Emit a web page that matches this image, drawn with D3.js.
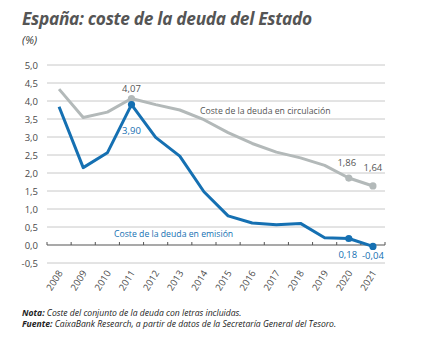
<!DOCTYPE html>
<html>
<head>
<meta charset="utf-8">
<script src="https://cdn.jsdelivr.net/npm/d3@7"></script>
<style>
  body { margin: 0; background: #fff; }
  text { font-family: "Open Sans", "Noto Sans", sans-serif; }
</style>
</head>
<body>
<div id="chart"></div>
<script>
// data
const years = ["2008","2009","2010","2011","2012","2013","2014","2015","2016","2017","2018","2019","2020","2021"];
const circulacion = [4.33, 3.54, 3.69, 4.07, 3.90, 3.75, 3.48, 3.12, 2.82, 2.58, 2.42, 2.21, 1.86, 1.64];
const emision = [3.84, 2.15, 2.56, 3.90, 2.99, 2.47, 1.48, 0.81, 0.61, 0.56, 0.60, 0.20, 0.18, -0.04];
const yTicks = [-0.5, 0, 0.5, 1, 1.5, 2, 2.5, 3, 3.5, 4, 4.5, 5];
const markedYears = ["2011", "2020", "2021"];

const width = 436, height = 361,
      margin = ({ top: 65, right: 51, bottom: 98, left: 47 });

const fmt = v => d3.format(".2f")(v).replace(".", ",").replace("−", "-");
const fmt1 = v => d3.format(".1f")(v).replace(".", ",").replace("−", "-");

let svg = d3.select("#chart")
    .append("svg")
    .attr("width", width)
    .attr("height", height);

let x = d3.scaleBand()
    .domain(years)
    .range([margin.left, width - margin.right]);

let y = d3.scaleLinear()
    .domain([-0.5, 5])
    .range([263, margin.top]);

const cx = d => x(d) + x.bandwidth() / 2;

// gridlines
svg.append("g")
    .selectAll("line")
    .data(yTicks.filter(d => d !== 0))
    .join("line")
    .attr("x1", margin.left)
    .attr("x2", width - margin.right)
    .attr("y1", d => y(d))
    .attr("y2", d => y(d))
    .attr("stroke", "#c8c8c8")
    .attr("stroke-width", 1);

// y tick labels
svg.append("g")
    .selectAll("text")
    .data(yTicks)
    .join("text")
    .attr("x", 38)
    .attr("y", d => y(d) + 3.5)
    .attr("text-anchor", "end")
    .style("font-size", "9.5px")
    .style("fill", "#4a4a4a")
    .text(d => fmt1(d));

// zero line with ticks
svg.append("line")
    .attr("x1", margin.left)
    .attr("x2", width - margin.right)
    .attr("y1", y(0))
    .attr("y2", y(0))
    .attr("stroke", "#555")
    .attr("stroke-width", 1.2);

svg.append("g")
    .selectAll("line")
    .data(years.map(d => x(d)).concat([x(years[years.length - 1]) + x.bandwidth()]))
    .join("line")
    .attr("x1", d => d)
    .attr("x2", d => d)
    .attr("y1", y(0))
    .attr("y2", y(0) - 3)
    .attr("stroke", "#555")
    .attr("stroke-width", 1);

// year labels
svg.append("g")
    .selectAll("text")
    .data(years)
    .join("text")
    .attr("text-anchor", "end")
    .attr("transform", d => `translate(${cx(d) + 4},${273}) rotate(-58)`)
    .style("font-size", "9.5px")
    .style("fill", "#4a4a4a")
    .text(d => d);

let line = d3.line()
    .x((d, i) => cx(years[i]))
    .y(d => y(d));

const gray = "#b3b9b9", blue = "#1570b2";

svg.append("path")
    .datum(circulacion)
    .attr("fill", "none")
    .attr("stroke", gray)
    .attr("stroke-width", 3)
    .attr("stroke-linejoin", "round")
    .attr("d", line);

svg.append("path")
    .datum(emision)
    .attr("fill", "none")
    .attr("stroke", blue)
    .attr("stroke-width", 3)
    .attr("stroke-linejoin", "round")
    .attr("d", line);

// dots
const dotYears = years.filter(d => markedYears.includes(d));
svg.append("g")
    .selectAll("circle")
    .data(dotYears)
    .join("circle")
    .attr("cx", d => cx(d))
    .attr("cy", d => y(circulacion[years.indexOf(d)]))
    .attr("r", 3.6)
    .attr("fill", gray);

svg.append("g")
    .selectAll("circle")
    .data(dotYears)
    .join("circle")
    .attr("cx", d => cx(d))
    .attr("cy", d => y(emision[years.indexOf(d)]))
    .attr("r", 3.6)
    .attr("fill", blue);

// value labels
const grayOffsets = { "2011": [0, -6], "2020": [-2, -12], "2021": [0, -15] };
svg.append("g")
    .selectAll("text")
    .data(dotYears)
    .join("text")
    .attr("x", d => cx(d) + grayOffsets[d][0])
    .attr("y", d => y(circulacion[years.indexOf(d)]) + grayOffsets[d][1])
    .attr("text-anchor", "middle")
    .style("font-size", "9.5px")
    .style("fill", "#555")
    .text(d => fmt(circulacion[years.indexOf(d)]));

const blueOffsets = { "2011": [0, 29], "2020": [-1, 19], "2021": [0, 13] };
svg.append("g")
    .selectAll("text")
    .data(dotYears)
    .join("text")
    .attr("x", d => cx(d) + blueOffsets[d][0])
    .attr("y", d => y(emision[years.indexOf(d)]) + blueOffsets[d][1])
    .attr("text-anchor", "middle")
    .style("font-size", "9.5px")
    .style("fill", blue)
    .text(d => fmt(emision[years.indexOf(d)]));

// series labels
svg.append("text")
    .attr("x", 200)
    .attr("y", 114)
    .style("font-size", "8.7px")
    .style("fill", "#555")
    .text("Coste de la deuda en circulación");

svg.append("text")
    .attr("x", 114)
    .attr("y", 237)
    .style("font-size", "8.7px")
    .style("fill", blue)
    .text("Coste de la deuda en emisión");

// title and unit
svg.append("text")
    .attr("x", 22)
    .attr("y", 25)
    .style("font-size", "17.3px")
    .style("font-weight", "bold")
    .style("font-style", "italic")
    .style("fill", "#555")
    .style("letter-spacing", "-0.3px")
    .text("España: coste de la deuda del Estado");

svg.append("text")
    .attr("x", 22)
    .attr("y", 44)
    .style("font-size", "11px")
    .style("font-style", "italic")
    .style("fill", "#333")
    .text("(%)");

// notes
let nota = svg.append("text")
    .attr("x", 22)
    .attr("y", 316)
    .style("font-size", "8.6px")
    .style("font-style", "italic")
    .style("fill", "#222");
nota.append("tspan").style("font-weight", "bold").text("Nota:");
nota.append("tspan").text(" Coste del conjunto de la deuda con letras incluidas.");

let fuente = svg.append("text")
    .attr("x", 22)
    .attr("y", 327)
    .style("font-size", "8.6px")
    .style("font-style", "italic")
    .style("fill", "#222");
fuente.append("tspan").style("font-weight", "bold").text("Fuente:");
fuente.append("tspan").text(" CaixaBank Research, a partir de datos de la Secretaría General del Tesoro.");
</script>
</body>
</html>
